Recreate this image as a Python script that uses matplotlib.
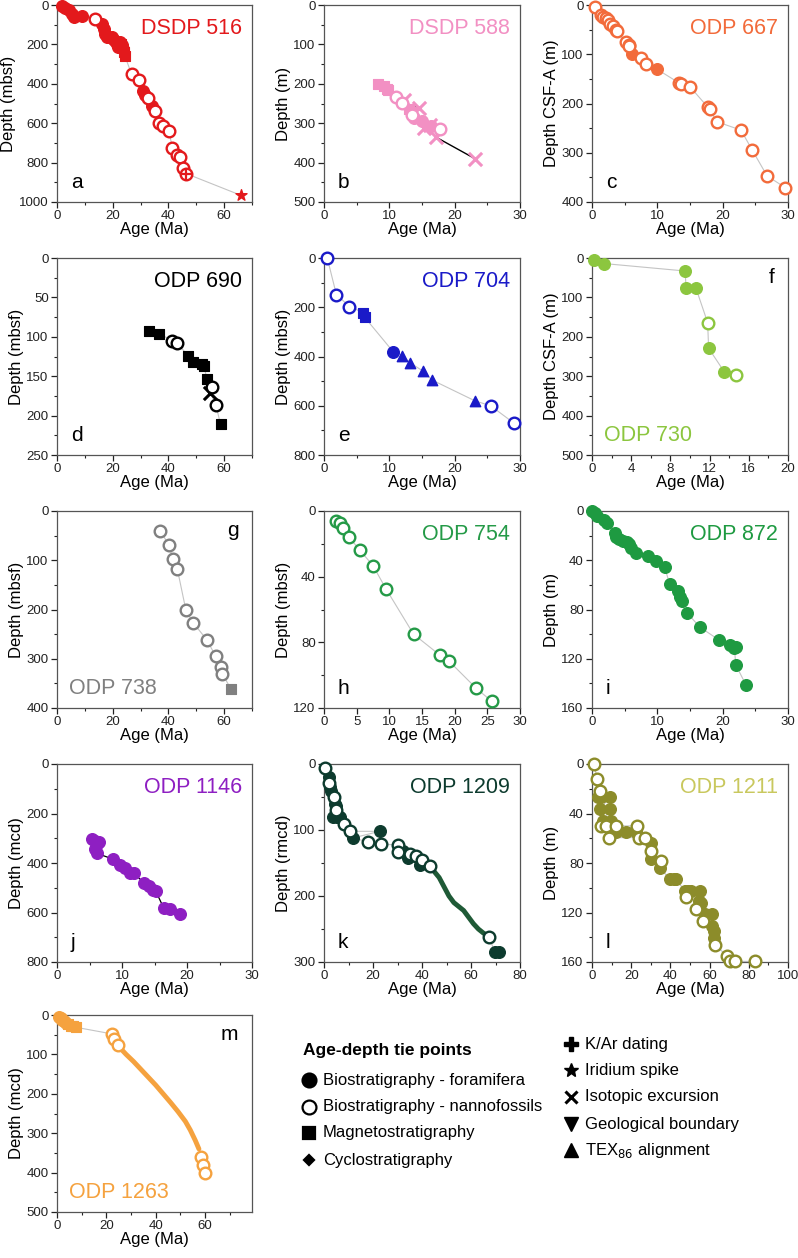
import matplotlib
matplotlib.use("Agg")
import matplotlib.pyplot as plt
from matplotlib.ticker import MultipleLocator
import numpy as np

plt.rcParams['font.family'] = ['Liberation Sans', 'DejaVu Sans']

# ---------------- data (age Ma, depth m) ----------------
# a DSDP 516
a_foram_age = [1.8, 3.0, 4.2, 5.4, 6.2, 8.9, 16.0, 17.0, 17.3, 17.9, 19.6, 20.2, 20.8, 21.4, 22.0, 22.6, 23.2, 23.6, 31.0, 31.5, 34.0]
a_foram_depth = [7, 14, 24, 44, 61, 57, 94, 120, 145, 162, 162, 175, 182, 196, 212, 187, 204, 221, 437, 455, 515]
a_nanno_age = [13.7, 26.8, 29.5, 32.5, 35.1, 36.7, 37.9, 40.2, 41.4, 42.9, 44.0, 45.2, 46.4]
a_nanno_depth = [73, 352, 380, 472, 539, 597, 615, 642, 724, 759, 773, 827, 856]
a_mag_age = [22.8, 24.0, 24.4]
a_mag_depth = [200, 238, 260]
a_kar_age = [46.4]
a_kar_depth = [856]
a_ir_age = [66.0]
a_ir_depth = [966]

# b DSDP 588
b_mag_age = [8.2, 9.2, 9.6, 9.8, 13.0, 13.3]
b_mag_depth = [200, 206, 212, 216, 265, 272]
b_nanno_age = [11.0, 12.0, 13.4, 17.8]
b_nanno_depth = [233, 249, 280, 314]
b_iso_age = [12.3, 14.6, 15.3, 16.2, 17.1, 23.1]
b_iso_depth = [242, 262, 313, 305, 335, 390]
b_foram_age = [13.8, 15.0, 16.4]
b_foram_depth = [288, 294, 308]

# c ODP 667
c_nanno_age = [0.5, 1.4, 1.7, 2.1, 2.4, 2.7, 3.2, 3.6, 3.8, 5.2, 5.6, 5.7, 7.5, 8.2, 13.3, 13.6, 15.0, 17.7, 18.0, 19.1, 22.8, 24.5, 26.8, 29.6]
c_nanno_depth = [5, 21, 24, 26, 31, 38, 43, 50, 53, 75, 82, 84, 107, 119, 158, 161, 166, 207, 211, 237, 254, 294, 347, 371]
c_foram_age = [6.1, 9.9]
c_foram_depth = [100, 130]

# d ODP 690
d_mag_age = [33.0, 36.7, 47.1, 48.7, 51.9, 52.7, 53.9, 58.7]
d_mag_depth = [93, 96, 124, 132, 134, 137, 154, 211]
d_nanno_age = [41.4, 43.2, 55.5, 57.0]
d_nanno_depth = [105, 108.5, 164, 186]
d_iso_age = [55.1]
d_iso_depth = [171]

# e ODP 704
e_nanno_age = [0.5, 1.9, 3.9, 25.5, 29.1]
e_nanno_depth = [0, 149, 197, 600, 671]
e_mag_age = [6.0, 6.2]
e_mag_depth = [222, 240]
e_foram_age = [10.6]
e_foram_depth = [381]
e_tex_age = [12.0, 13.2, 15.2, 16.5, 23.1]
e_tex_depth = [396, 426, 460, 495, 580]

# f ODP 730
f_foram_age = [0.24, 1.2, 9.5, 9.6, 10.6, 11.9, 13.5]
f_foram_depth = [6, 14, 33, 76, 76, 229, 289]
f_nanno_age = [11.8, 14.7]
f_nanno_depth = [164, 296]

# g ODP 738
g_nanno_age = [37.0, 40.3, 41.5, 43.2, 46.3, 48.9, 53.7, 57.0, 58.8, 59.4]
g_nanno_depth = [40, 70, 97, 118, 202, 227, 261, 295, 316, 331]
g_mag_age = [62.4]
g_mag_depth = [361]

# h ODP 754
h_nanno_age = [1.85, 2.5, 2.9, 3.8, 5.5, 7.5, 9.5, 13.7, 17.8, 19.1, 23.3, 25.7]
h_nanno_depth = [5.9, 7.1, 10.1, 15.8, 23.9, 33.3, 47.5, 75, 88, 91.3, 108, 116]

# i ODP 872
i_foram_age = [0.0, 0.4, 0.8, 1.9, 2.3, 3.5, 3.7, 4.1, 4.7, 5.3, 5.7, 6.0, 6.7, 8.6, 9.8, 11.1, 11.9, 13.2, 13.4, 13.8, 14.6, 16.5, 19.4, 21.1, 21.8, 22.1, 22.0, 23.6]
i_foram_depth = [0, 1.9, 3.8, 7, 9.5, 17.8, 20.8, 22.7, 24.3, 25.4, 27, 30.3, 34.3, 36.2, 40.5, 45.4, 59.5, 64.9, 69.5, 73.5, 83, 94.3, 104.6, 109.2, 111, 110.8, 124.9, 141.6]

# j ODP 1146
j_foram_age = [5.4, 5.9, 6.4, 6.1, 5.8, 6.1, 8.6, 9.7, 10.5, 11.2, 11.8, 13.4, 14.1, 14.8, 15.2, 16.4, 17.4, 18.9]
j_foram_depth = [303, 311, 316, 324, 345, 361, 384, 408, 419, 442, 442, 480, 492, 509, 514, 581, 586, 608]

# k ODP 1209
k_nanno_age = [0.3, 2.0, 3.9, 5.0, 8.2, 10.6, 18.0, 23.2, 30.0, 30.2, 35.0, 37.7, 40.0, 43.2, 67.4]
k_nanno_depth = [6, 29, 50, 70, 91, 102, 118, 121, 123, 133, 136, 140, 146, 155, 262]
k_foram_age = [1.9, 2.6, 3.0, 4.6, 4.8, 3.7, 5.4, 6.4, 11.9, 22.7, 32.3, 34.3, 39.1, 69.7, 71.4]
k_foram_depth = [19, 35, 41, 60, 63, 81, 81, 81, 112, 102, 132, 143, 153, 285, 285]
k_cyclo_age = [43.2, 45, 47, 49, 51, 53, 55, 57, 59, 61, 63, 65, 67.4]
k_cyclo_depth = [155, 163, 172, 186, 200, 210, 216, 222, 232, 242, 250, 256, 262]

# l ODP 1211
l_nanno_age = [0.9, 2.7, 3.9, 4.4, 7.3, 8.7, 12.0, 23.0, 23.8, 26.9, 30.3, 35.4, 48.1, 52.9, 56.6, 62.6, 68.9, 70.2, 73.1, 83.3]
l_nanno_depth = [0, 12, 21.6, 50, 50, 59.5, 50, 50, 59.5, 59.5, 70, 78, 107.6, 116.8, 127, 146, 155, 159.5, 159.5, 159.5]
l_foram_age = [3.0, 4.8, 9.0, 4.3, 9.0, 5.6, 9.9, 12.0, 17.2, 22.3, 30.3, 30.3, 34.9, 39.6, 41.7, 43.0, 47.3, 49.0, 50.7, 54.9, 54.4, 55.8, 57.5, 61.2, 61.4, 62.0, 62.2]
l_foram_depth = [26.5, 26.5, 26.5, 36.5, 36.5, 45.9, 45.9, 55, 55, 55, 64, 77, 84, 93, 93, 93, 102.7, 102.7, 102.7, 102.7, 110.8, 112, 121, 121.6, 131, 135, 140.5]

# m ODP 1263
m_foram_age = [1.0, 1.6, 2.2, 3.0, 3.6]
m_foram_depth = [4, 8, 12, 16, 20]
m_mag_age = [4.5, 5.5, 6.5, 7.5]
m_mag_depth = [24, 27, 29, 31]
m_nanno_age = [22.3, 23.2, 24.8, 58.5, 59.2, 60.0]
m_nanno_depth = [48, 62, 76, 360, 380, 400]
m_cyclo_age = [25, 28, 31, 34, 37, 40, 43, 46, 49, 52, 54, 56, 57.5]
m_cyclo_depth = [80, 100, 118, 138, 158, 178, 200, 222, 245, 270, 292, 318, 340]

site_names = ['DSDP 516', 'DSDP 588', 'ODP 667', 'ODP 690', 'ODP 704', 'ODP 730', 'ODP 738',
              'ODP 754', 'ODP 872', 'ODP 1146', 'ODP 1209', 'ODP 1211', 'ODP 1263']
panel_letters = list('abcdefghijklm')
y_labels = ['Depth (mbsf)', 'Depth (m)', 'Depth CSF-A (m)', 'Depth (mbsf)', 'Depth (mbsf)',
            'Depth CSF-A (m)', 'Depth (mbsf)', 'Depth (mbsf)', 'Depth (m)', 'Depth (mcd)',
            'Depth (rmcd)', 'Depth (m)', 'Depth (mcd)']

# ---------------- figure ----------------
W, H = 798, 1258
fig = plt.figure(figsize=(W / 100, H / 100), dpi=100)

cols = [(57, 252), (324, 520), (592, 788)]
rows = [(5, 202), (258, 455), (511, 708), (764, 962), (1015, 1212)]


def add_ax(r, c):
    l, rr = cols[c]
    t, b = rows[r]
    return fig.add_axes([l / W, 1 - b / H, (rr - l) / W, (b - t) / H])


def style(ax, xlim, ylim, xmaj, xmin, ymaj, ymin, ylabel, xticks=None):
    ax.set_xlim(*xlim)
    ax.set_ylim(ylim[1], ylim[0])
    ax.xaxis.set_major_locator(MultipleLocator(xmaj))
    ax.xaxis.set_minor_locator(MultipleLocator(xmin))
    ax.yaxis.set_major_locator(MultipleLocator(ymaj))
    ax.yaxis.set_minor_locator(MultipleLocator(ymin))
    if xticks is not None:
        ax.set_xticks(xticks)
    ax.tick_params(which='major', direction='out', length=4, width=0.9, labelsize=9.5,
                   colors='#222222', pad=2)
    ax.tick_params(which='minor', direction='out', length=2.5, width=0.8, colors='#222222')
    for s in ax.spines.values():
        s.set_color('#555555')
        s.set_linewidth(0.9)
    ax.set_xlabel('Age (Ma)', fontsize=12, labelpad=0)
    ax.set_ylabel(ylabel, fontsize=12, labelpad=2)


def pts(ax, ages, depths, kind, color, s=70):
    kw = dict(clip_on=False)
    if kind == 'foram':
        ax.scatter(ages, depths, s=s, marker='o', facecolor=color, edgecolor=color, linewidth=1, zorder=3, **kw)
    elif kind == 'nanno':
        ax.scatter(ages, depths, s=s, marker='o', facecolor='white', edgecolor=color, linewidth=1.7, zorder=4, **kw)
    elif kind == 'mag':
        ax.scatter(ages, depths, s=s * 0.85, marker='s', facecolor=color, edgecolor=color, linewidth=0.8, zorder=3, **kw)
    elif kind == 'cyclo':
        ax.plot(ages, depths, color=color, lw=3.5, zorder=2, solid_capstyle='round')
    elif kind == 'kar':
        ax.scatter(ages, depths, s=s * 0.9, marker='+', color=color, linewidth=1.6, zorder=5, **kw)
    elif kind == 'ir':
        ax.scatter(ages, depths, s=s, marker='*', facecolor=color, edgecolor=color, zorder=3, **kw)
    elif kind == 'iso':
        ax.scatter(ages, depths, s=s * 1.3, marker='x', color=color, linewidth=2.2, zorder=3, **kw)
    elif kind == 'tex':
        ax.scatter(ages, depths, s=s * 0.8, marker='^', facecolor=color, edgecolor=color, zorder=3, **kw)


def connect(ax, groups, color='#c4c4c4', lw=0.8):
    a = np.concatenate([np.asarray(g[0], float) for g in groups])
    d = np.concatenate([np.asarray(g[1], float) for g in groups])
    o = np.argsort(d, kind='stable')
    ax.plot(a[o], d[o], color=color, lw=lw, zorder=1)


def labels(ax, idx, color, title_pos='tr'):
    if title_pos == 'tr':
        ax.text(0.95, 0.88, site_names[idx], transform=ax.transAxes, ha='right', va='center',
                fontsize=15.5, color=color)
        ax.text(0.07, 0.1, panel_letters[idx], transform=ax.transAxes, ha='left', va='center',
                fontsize=15, color='black')
    else:
        ax.text(0.93, 0.9, panel_letters[idx], transform=ax.transAxes, ha='right', va='center',
                fontsize=15, color='black')
        ax.text(0.06, 0.1, site_names[idx], transform=ax.transAxes, ha='left', va='center',
                fontsize=15.5, color=color)


# a
ax = add_ax(0, 0)
col = '#e3191c'
connect(ax, [(a_foram_age, a_foram_depth), (a_nanno_age, a_nanno_depth), (a_mag_age, a_mag_depth), (a_ir_age, a_ir_depth)])
pts(ax, a_foram_age, a_foram_depth, 'foram', col)
pts(ax, a_mag_age, a_mag_depth, 'mag', col)
pts(ax, a_nanno_age, a_nanno_depth, 'nanno', col)
pts(ax, a_kar_age, a_kar_depth, 'kar', col)
pts(ax, a_ir_age, a_ir_depth, 'ir', col)
style(ax, (0, 70), (0, 1000), 20, 10, 200, 100, y_labels[0])
labels(ax, 0, col)

# b
ax = add_ax(0, 1)
col = '#f290c3'
connect(ax, [(b_mag_age, b_mag_depth), (b_nanno_age, b_nanno_depth), (b_iso_age, b_iso_depth), (b_foram_age, b_foram_depth)], color='black', lw=1.0)
pts(ax, b_mag_age, b_mag_depth, 'mag', col)
pts(ax, b_foram_age, b_foram_depth, 'foram', col)
pts(ax, b_nanno_age, b_nanno_depth, 'nanno', col)
pts(ax, b_iso_age, b_iso_depth, 'iso', col)
style(ax, (0, 30), (0, 500), 10, 5, 100, 50, y_labels[1])
labels(ax, 1, col)

# c
ax = add_ax(0, 2)
col = '#f26b3b'
connect(ax, [(c_nanno_age, c_nanno_depth), (c_foram_age, c_foram_depth)])
pts(ax, c_foram_age, c_foram_depth, 'foram', col)
pts(ax, c_nanno_age, c_nanno_depth, 'nanno', col)
style(ax, (0, 30), (0, 400), 10, 5, 100, 50, y_labels[2])
labels(ax, 2, col)

# d
ax = add_ax(1, 0)
col = '#000000'
connect(ax, [(d_mag_age, d_mag_depth), (d_nanno_age, d_nanno_depth), (d_iso_age, d_iso_depth)])
pts(ax, d_mag_age, d_mag_depth, 'mag', col)
pts(ax, d_nanno_age, d_nanno_depth, 'nanno', col)
pts(ax, d_iso_age, d_iso_depth, 'iso', col)
style(ax, (0, 70), (0, 250), 20, 10, 50, 25, y_labels[3])
labels(ax, 3, col)

# e
ax = add_ax(1, 1)
col = '#1a1ac8'
connect(ax, [(e_nanno_age, e_nanno_depth), (e_mag_age, e_mag_depth), (e_foram_age, e_foram_depth), (e_tex_age, e_tex_depth)])
pts(ax, e_mag_age, e_mag_depth, 'mag', col)
pts(ax, e_foram_age, e_foram_depth, 'foram', col)
pts(ax, e_tex_age, e_tex_depth, 'tex', col)
pts(ax, e_nanno_age, e_nanno_depth, 'nanno', col)
style(ax, (0, 30), (0, 800), 10, 5, 200, 100, y_labels[4])
labels(ax, 4, col)

# f
ax = add_ax(1, 2)
col = '#8cc63f'
connect(ax, [(f_foram_age, f_foram_depth), (f_nanno_age, f_nanno_depth)])
pts(ax, f_foram_age, f_foram_depth, 'foram', col)
pts(ax, f_nanno_age, f_nanno_depth, 'nanno', col)
style(ax, (0, 20), (0, 500), 4, 2, 100, 50, y_labels[5])
labels(ax, 5, col, 'bl')

# g
ax = add_ax(2, 0)
col = '#808080'
connect(ax, [(g_nanno_age, g_nanno_depth), (g_mag_age, g_mag_depth)])
pts(ax, g_mag_age, g_mag_depth, 'mag', col)
pts(ax, g_nanno_age, g_nanno_depth, 'nanno', col)
style(ax, (0, 70), (0, 400), 20, 10, 100, 50, y_labels[6])
labels(ax, 6, col, 'bl')

# h
ax = add_ax(2, 1)
col = '#249a47'
connect(ax, [(h_nanno_age, h_nanno_depth)])
pts(ax, h_nanno_age, h_nanno_depth, 'nanno', col)
style(ax, (0, 30), (0, 120), 5, 5, 40, 20, y_labels[7])
labels(ax, 7, col)

# i
ax = add_ax(2, 2)
col = '#1e9a41'
connect(ax, [(i_foram_age, i_foram_depth)])
pts(ax, i_foram_age, i_foram_depth, 'foram', col)
style(ax, (0, 30), (0, 160), 10, 5, 40, 20, y_labels[8])
labels(ax, 8, col)

# j
ax = add_ax(3, 0)
col = '#8e1fc2'
connect(ax, [(j_foram_age, j_foram_depth)], color='black', lw=0.9)
pts(ax, j_foram_age, j_foram_depth, 'foram', col)
style(ax, (0, 30), (0, 800), 10, 5, 200, 100, y_labels[9])
labels(ax, 9, col)

# k
ax = add_ax(3, 1)
col = '#0d3b2e'
connect(ax, [(k_nanno_age, k_nanno_depth), (k_foram_age, k_foram_depth), (k_cyclo_age, k_cyclo_depth)])
pts(ax, k_cyclo_age, k_cyclo_depth, 'cyclo', '#1f5a36')
pts(ax, k_foram_age, k_foram_depth, 'foram', col)
pts(ax, k_nanno_age, k_nanno_depth, 'nanno', col)
style(ax, (0, 80), (0, 300), 20, 10, 100, 50, y_labels[10])
labels(ax, 10, col)

# l
ax = add_ax(3, 2)
col = '#8c8c2a'
connect(ax, [(l_nanno_age, l_nanno_depth), (l_foram_age, l_foram_depth)])
pts(ax, l_foram_age, l_foram_depth, 'foram', col)
pts(ax, l_nanno_age, l_nanno_depth, 'nanno', col)
style(ax, (0, 100), (0, 160), 20, 10, 40, 20, y_labels[11])
labels(ax, 11, '#c9c85e')

# m
ax = add_ax(4, 0)
col = '#f5a23f'
connect(ax, [(m_foram_age, m_foram_depth), (m_mag_age, m_mag_depth), (m_nanno_age, m_nanno_depth), (m_cyclo_age, m_cyclo_depth)])
pts(ax, m_cyclo_age, m_cyclo_depth, 'cyclo', col)
pts(ax, m_foram_age, m_foram_depth, 'foram', col)
pts(ax, m_mag_age, m_mag_depth, 'mag', col)
pts(ax, m_nanno_age, m_nanno_depth, 'nanno', col)
style(ax, (0, 79), (0, 500), 20, 10, 100, 50, y_labels[12], xticks=[0, 20, 40, 60])
ax.xaxis.set_minor_locator(MultipleLocator(10))
labels(ax, 12, col, 'bl')

# ---------------- legend ----------------
lg = fig.add_axes([0, 0, 1, 1])
lg.set_xlim(0, W)
lg.set_ylim(H, 0)
lg.axis('off')
lg.text(303, 1050, 'Age-depth tie points', fontsize=12.5, fontweight='bold', va='center', ha='left')
leg_col1 = [('o', 'black', 'Biostratigraphy - foramifera', 1080),
            ('o', 'white', 'Biostratigraphy - nannofossils', 1107),
            ('s', 'black', 'Magnetostratigraphy', 1133),
            ('D', 'black', 'Cyclostratigraphy', 1160)]
for mk, fc, txt, y in leg_col1:
    ms = 10 if mk == 'o' else (9 if mk == 's' else 5.5)
    lg.plot([309], [y], marker=mk, ms=ms, mfc=fc, mec='black', mew=1.6, ls='none')
    lg.text(323, y, txt, fontsize=12, va='center', ha='left')
leg_col2 = [('P', 'K/Ar dating', 1044), ('*', 'Iridium spike', 1070), ('x', 'Isotopic excursion', 1097),
            ('v', 'Geological boundary', 1124), ('^', 'TEX$_{86}$ alignment', 1150)]
for mk, txt, y in leg_col2:
    kw = dict(mfc='black', mec='black', ms=10)
    if mk == 'x':
        kw = dict(mec='black', ms=9, mew=2.2)
    lg.plot([571], [y], marker=mk, ls='none', **kw)
    lg.text(585, y, txt, fontsize=12, va='center', ha='left')

fig.savefig('out.png', dpi=100)
